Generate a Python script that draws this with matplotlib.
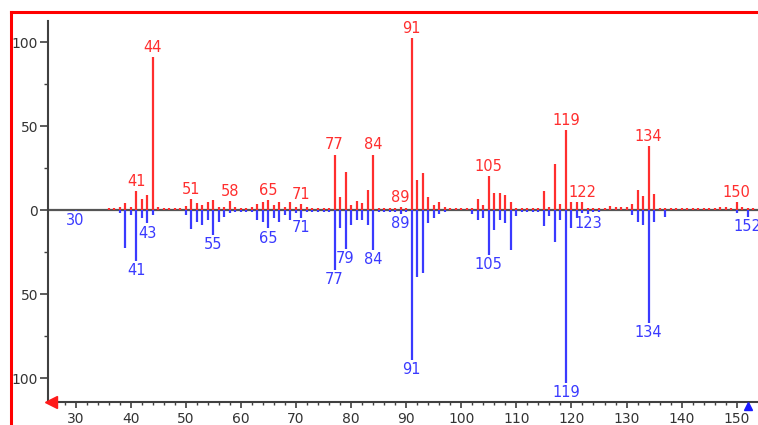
import numpy as np
import matplotlib.pyplot as plt
from matplotlib.lines import Line2D
from matplotlib.ticker import MultipleLocator, FuncFormatter

# upper (sample) spectrum, m/z and relative intensity
top_mz = list(range(36, 154))
top_int = [1, 1, 1.5, 4, 2, 11.5, 6.5, 9, 91, 2,            # 36-45
           1, 1, 1, 1, 2.5, 6.5, 4, 3, 5, 6,                # 46-55
           2, 1.5, 5.5, 1.5, 1, 1, 2, 3.5, 4.5, 6,          # 56-65
           3, 4.5, 2, 5, 2, 3.5, 1.5, 1, 1, 1,              # 66-75
           1, 33, 7.5, 22.8, 3, 5.4, 4, 12, 33, 1,          # 76-85
           1, 1, 1, 2, 1, 102.5, 18, 22, 7.5, 3,            # 86-95
           4.5, 2, 1, 1, 1, 1, 1, 6.3, 3, 20,               # 96-105
           10, 10, 9, 5, 1, 1, 1, 1, 1, 11.5,               # 106-115
           2, 27.4, 3.4, 47.6, 5, 5, 5, 1, 1, 1,            # 116-125
           1, 2.5, 1.5, 1.5, 1.5, 3.5, 12, 8.5, 38.3, 9.5,  # 126-135
           1, 1, 1, 1, 1, 1, 1, 1, 1, 1,                    # 136-145
           1, 1.5, 2, 1, 5, 1.5, 1, 1]                      # 146-153
top_labels = [41, 44, 51, 58, 65, 71, 77, 84, 89, 91, 105, 119, 122, 134, 150]

# lower (library) spectrum
bot_mz = [30, 38, 39, 40, 41, 42, 43, 44,
          50, 51, 52, 53, 54, 55, 56, 57, 58, 59, 60, 61, 62, 63, 64, 65,
          66, 67, 68, 69, 70, 71, 72, 73, 74, 75, 76, 77, 78, 79, 80, 81,
          82, 83, 84, 85, 86, 87, 88, 89, 90, 91, 92, 93, 94, 95, 96, 97,
          102, 103, 104, 105, 106, 107, 108, 109, 110, 111, 112, 113, 114,
          115, 116, 117, 118, 119, 120, 121, 122, 123, 124, 125,
          131, 132, 133, 134, 135, 137, 150, 152]
bot_int = [0.8, 1.5, 22.4, 3, 30.4, 5, 8, 3,
           3, 11.5, 7, 9, 6, 15, 7, 4, 2, 1, 1, 1, 1, 6, 7, 11,
           5, 7, 3, 6, 2, 5, 1, 1, 1, 1, 1, 35.7, 11, 23.4, 9, 6,
           6, 9, 23.8, 1, 1, 1, 1, 2.5, 1, 89, 40, 37.7, 8, 5, 2.5, 1,
           2.5, 6, 5, 26.8, 12, 6, 8, 24, 3.5, 1, 1, 1, 1,
           9.5, 3.4, 19, 6, 102.8, 11, 5, 1.5, 2.5, 1, 1,
           3, 7, 9, 67.5, 7, 4, 2, 4]
bot_labels = [30, 41, 43, 55, 65, 71, 77, 79, 84, 89, 91, 105, 119, 123, 134, 152]

RED = '#ff2e2e'
BLUE = '#3a3aff'
AXC = '#404040'

W, H = 758, 425
fig = plt.figure(figsize=(W / 100, H / 100), dpi=100)
fig.patch.set_facecolor('white')

# plot area in pixels: y axis at x=48, x axis at y=402, top of y axis at y=21
px_per_mz = 5.51
px_per_int = 1.68
x0, y_axis_bot, y_axis_top = 48, 402, 21
ax = fig.add_axes([x0 / W, 1 - y_axis_bot / H, (W - x0) / W, (y_axis_bot - y_axis_top) / H])
ax.set_xlim(25, 25 + (W - x0) / px_per_mz)
ymax = (210 - y_axis_top) / px_per_int
ymin = -(y_axis_bot - 210) / px_per_int
ax.set_ylim(ymin, ymax)

ax.axhline(0, color='#555555', lw=1.6, zorder=1)
ax.vlines(top_mz, 0, top_int, color=RED, lw=1.6, zorder=2)
ax.vlines(bot_mz, 0, [-v for v in bot_int], color=BLUE, lw=1.6, zorder=2)

top_lookup = dict(zip(top_mz, top_int))
bot_lookup = dict(zip(bot_mz, bot_int))
for m in top_labels:
    ax.annotate(str(m), (m, top_lookup[m]), xytext=(0, 1.5), textcoords='offset points',
                ha='center', va='bottom', color=RED, fontsize=10.5)
for m in bot_labels:
    ax.annotate(str(m), (m, -bot_lookup[m]), xytext=(0, -1.5), textcoords='offset points',
                ha='center', va='top', color=BLUE, fontsize=10.5)

for s in ('top', 'right'):
    ax.spines[s].set_visible(False)
for s in ('left', 'bottom'):
    ax.spines[s].set_color(AXC)
    ax.spines[s].set_linewidth(1.5)

ax.xaxis.set_major_locator(MultipleLocator(10))
ax.xaxis.set_minor_locator(MultipleLocator(2))
ax.yaxis.set_major_locator(MultipleLocator(50))
ax.yaxis.set_minor_locator(MultipleLocator(25))
ax.yaxis.set_major_formatter(FuncFormatter(lambda v, p: f'{abs(v):.0f}'))
ax.tick_params(axis='x', which='major', length=4, width=1.2, color=AXC, pad=3,
               labelsize=10, labelcolor='#333333')
ax.tick_params(axis='x', which='minor', length=2, width=1, color=AXC)
ax.tick_params(axis='y', which='major', length=6, width=1.2, color=AXC, pad=1,
               labelsize=10, labelcolor='#333333')
ax.tick_params(axis='y', which='minor', length=3, width=1, color=AXC)

# range markers on the x axis
ax.plot([25.6], [ymin], marker='<', color='#ff1a1a', markersize=8, clip_on=False, zorder=5)
ax.plot([152], [ymin - 2.4], marker='^', color='#1a1aff', markersize=6, clip_on=False, zorder=5)

# red window frame, cut off at the right and bottom
fig.add_artist(Line2D([10.8 / W, 10.8 / W], [0, 1 - 12 / H], color='#ff0000', lw=2.2,
                      transform=fig.transFigure))
fig.add_artist(Line2D([10.8 / W, 1], [1 - 12 / H, 1 - 12 / H], color='#ff0000', lw=2.2,
                      transform=fig.transFigure))

fig.savefig('out.png', dpi=100)
